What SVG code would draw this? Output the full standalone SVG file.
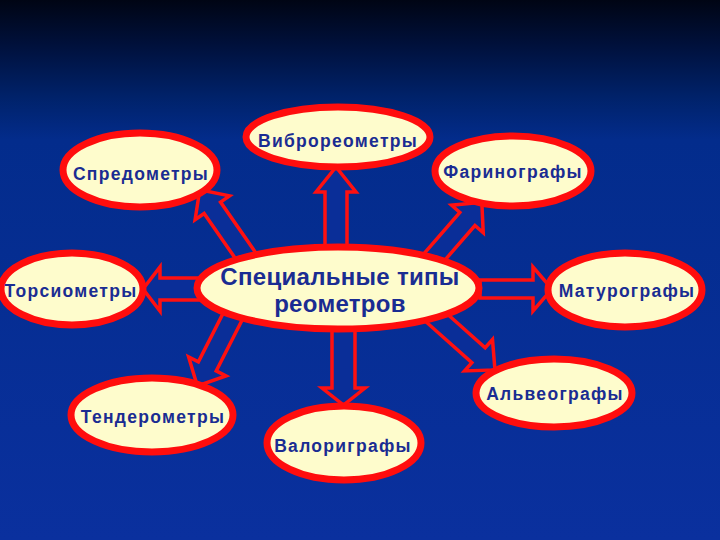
<svg xmlns="http://www.w3.org/2000/svg" width="720" height="540" viewBox="0 0 720 540">
<defs>
<linearGradient id="bg" x1="0" y1="0" x2="0" y2="1">
<stop offset="0" stop-color="#000514"/>
<stop offset="0.08" stop-color="#00103a"/>
<stop offset="0.18" stop-color="#00226a"/>
<stop offset="0.26" stop-color="#032c8c"/>
<stop offset="1" stop-color="#0a309e"/>
</linearGradient>
<style>
.arr{fill:#0a2e98;stroke:#ff1010;stroke-width:3.5;stroke-linejoin:miter}
.nd{fill:#fefccc;stroke:#ff0d0d;stroke-width:7}
.t{font-family:"Liberation Sans",Arial,sans-serif;font-weight:bold;fill:#1a2c92;text-anchor:middle}
.s{font-size:17.5px;letter-spacing:1.3px}
.c{font-size:24px;letter-spacing:0.3px}
</style>
</defs>
<rect width="720" height="540" fill="url(#bg)"/>
<g id="connectors">
<path class="arr" d="M0,-11 H58 V-20 L83,0 L58,20 V11 H0 Z" transform="translate(336,250) rotate(-90)"/>
<path class="arr" d="M0,-11.5 H60 V-21.5 L77,0 L60,21.5 V11.5 H0 Z" transform="translate(343.5,328) rotate(90)"/>
<path class="arr" d="M0,-11 H40 V-22 L57,0 L40,22 V11 H0 Z" transform="translate(200,289) rotate(180)"/>
<path class="arr" d="M0,-9 H53 V-22 L72,0 L53,22 V9 H0 Z" transform="translate(480,289)"/>
<path class="arr" d="M0,-10 H66 V-21 L88,0 L66,21 V10 H0 Z" transform="translate(250,262) rotate(-124.8)"/>
<path class="arr" d="M0,-10 H57 V-21 L79,0 L57,21 V10 H0 Z" transform="translate(430,262) rotate(-49)"/>
<path class="arr" d="M0,-10 H65 V-21 L87,0 L65,21 V10 H0 Z" transform="translate(430,312) rotate(41.7)"/>
<path class="arr" d="M0,-10 H61 V-21 L83,0 L61,21 V10 H0 Z" transform="translate(235,312) rotate(117)"/>
</g>
<g id="center">
<ellipse class="nd" cx="338" cy="288" rx="141" ry="41"/>
<text class="t c" x="340" y="285">Специальные типы</text>
<text class="t c" x="340" y="312">реометров</text>
</g>
<g id="vibro">
<ellipse class="nd" cx="338" cy="137" rx="92" ry="30"/>
<text class="t s" x="338" y="147">Виброреометры</text>
</g>
<g id="spredo">
<ellipse class="nd" cx="140" cy="170" rx="77" ry="37"/>
<text class="t s" x="141" y="180">Спредометры</text>
</g>
<g id="farino">
<ellipse class="nd" cx="513" cy="171" rx="78" ry="35"/>
<text class="t s" x="513" y="178">Фаринографы</text>
</g>
<g id="torsio">
<ellipse class="nd" cx="72" cy="289" rx="71" ry="36"/>
<text class="t s" x="71" y="297">Торсиометры</text>
</g>
<g id="maturo">
<ellipse class="nd" cx="625" cy="290" rx="77" ry="37"/>
<text class="t s" x="627" y="297">Матурографы</text>
</g>
<g id="alveo">
<ellipse class="nd" cx="554" cy="393" rx="78" ry="34"/>
<text class="t s" x="555" y="400">Альвеографы</text>
</g>
<g id="tendero">
<ellipse class="nd" cx="152" cy="415" rx="81" ry="37"/>
<text class="t s" x="153" y="423">Тендерометры</text>
</g>
<g id="valori">
<ellipse class="nd" cx="344" cy="443" rx="77" ry="37"/>
<text class="t s" x="343" y="452">Валориграфы</text>
</g>
</svg>
